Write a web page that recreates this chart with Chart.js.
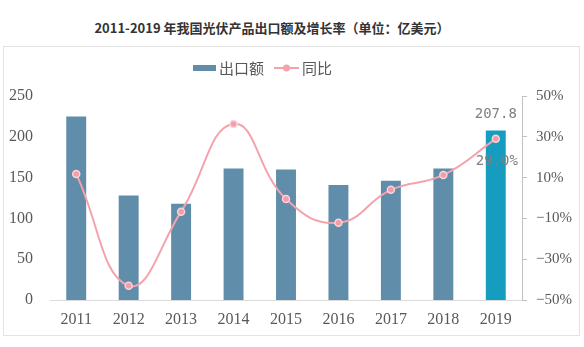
<!DOCTYPE html>
<html>
<head>
<meta charset="utf-8">
<script src="https://cdn.jsdelivr.net/npm/chart.js@4/dist/chart.umd.min.js"></script>
<style>
    body { margin: 0; width: 584px; height: 347px; background: #fff; position: relative; overflow: hidden; }
    #title {
        position: absolute; left: 0; top: 18px; width: 544px; text-align: center;
        font: bold 13px "Noto Sans CJK SC", sans-serif; color: #333;
    }
    #box {
        position: absolute; left: 3px; top: 46px; width: 577px; height: 290px;
        box-sizing: border-box; border: 1px solid #e3e3e3;
    }
    #chart { position: absolute; left: 0; top: 0; }
</style>
</head>
<body>
<div id="title">2011-2019 年我国光伏产品出口额及增长率（单位：亿美元）</div>
<div id="box"><canvas id="chart" width="575" height="288"></canvas></div>
<script>
const years = ['2011', '2012', '2013', '2014', '2015', '2016', '2017', '2018', '2019'];
const exportValues = [225, 128, 118, 161, 160, 141, 146, 161, 207.8];
const growthRates = [11.8, -43, -6.7, 36.3, -0.5, -12.1, 4, 11.3, 29.0];
const leftTicks = [0, 50, 100, 150, 200, 250];
const rightTicks = [-50, -30, -10, 10, 30, 50];

const BAR_COLOR = '#608daa';
const BAR_HIGHLIGHT = '#159cbe';
const LINE_COLOR = '#f4a3ad';
const TEXT_COLOR = '#595959';

// 最后一年单独标注数值
const valueLabels = {
    id: 'valueLabels',
    afterDatasetsDraw(chart) {
        const ctx = chart.ctx;
        const last = years.length - 1;
        const bar = chart.getDatasetMeta(0).data[last];
        const pt = chart.getDatasetMeta(1).data[last];
        ctx.save();
        ctx.font = '14px "DejaVu Sans Mono", monospace';
        ctx.fillStyle = '#7f7f7f';
        ctx.textAlign = 'center';
        ctx.textBaseline = 'middle';
        ctx.fillText(exportValues[last].toFixed(1), bar.x, bar.y - 16);
        ctx.fillText(growthRates[last].toFixed(1) + '%', pt.x + 1, pt.y + 23);
        ctx.restore();
    }
};

// 图例：柱形 + 带点折线
const customLegend = {
    id: 'customLegend',
    afterDraw(chart) {
        const ctx = chart.ctx;
        const ds = chart.data.datasets;
        const y = 21;
        let x = 189;
        ctx.save();
        ctx.font = '15px "Noto Sans CJK SC", sans-serif';
        ctx.textBaseline = 'middle';
        ctx.fillStyle = BAR_COLOR;
        ctx.fillRect(x, y - 3, 23, 6);
        x += 26;
        ctx.fillStyle = TEXT_COLOR;
        ctx.fillText(ds[0].label, x, y);
        x += ctx.measureText(ds[0].label).width + 10;
        ctx.strokeStyle = LINE_COLOR;
        ctx.lineWidth = 2;
        ctx.beginPath();
        ctx.moveTo(x, y);
        ctx.lineTo(x + 25, y);
        ctx.stroke();
        ctx.beginPath();
        ctx.arc(x + 12.5, y, 3.5, 0, Math.PI * 2);
        ctx.fillStyle = LINE_COLOR;
        ctx.fill();
        x += 28;
        ctx.fillStyle = TEXT_COLOR;
        ctx.fillText(ds[1].label, x, y);
        ctx.restore();
    }
};

new Chart(document.getElementById('chart'), {
    type: 'bar',
    data: {
        labels: years,
        datasets: [{
            type: 'bar',
            label: '出口额',
            data: exportValues,
            backgroundColor: years.map((y, i) => i === years.length - 1 ? BAR_HIGHLIGHT : BAR_COLOR),
            barPercentage: 0.76,
            categoryPercentage: 0.5,
            yAxisID: 'y',
            order: 2
        }, {
            type: 'line',
            label: '同比',
            data: growthRates,
            borderColor: LINE_COLOR,
            borderWidth: 2,
            tension: 0.45,
            pointRadius: 3.5,
            pointBackgroundColor: '#f39da8',
            pointBorderColor: '#fcd3d8',
            pointBorderWidth: 1.5,
            yAxisID: 'y1',
            order: 1
        }]
    },
    options: {
        responsive: false,
        animation: false,
        layout: { padding: { top: 49, left: 0, right: 0, bottom: 0 } },
        plugins: {
            legend: { display: false },
            tooltip: { enabled: false }
        },
        scales: {
            x: {
                grid: { display: false },
                border: { display: true, color: '#dcdcdc', width: 1 },
                ticks: {
                    color: TEXT_COLOR,
                    font: { family: '"Liberation Serif", serif', size: 16 },
                    padding: 2
                },
                afterFit: s => { s.height = 35; }
            },
            y: {
                position: 'left',
                min: 0,
                max: 250,
                grid: { display: false },
                border: { display: false },
                afterBuildTicks: s => { s.ticks = leftTicks.map(v => ({ value: v })); },
                ticks: {
                    color: TEXT_COLOR,
                    font: { family: '"Liberation Serif", serif', size: 16 },
                    padding: 9
                },
                afterFit: s => { s.width = 46; }
            },
            y1: {
                position: 'right',
                min: -50,
                max: 50,
                grid: { drawOnChartArea: false, drawTicks: true, tickLength: 5, color: '#bfbfbf' },
                border: { display: true, color: '#bfbfbf' },
                afterBuildTicks: s => { s.ticks = rightTicks.map(v => ({ value: v })); },
                ticks: {
                    color: TEXT_COLOR,
                    font: { family: '"Liberation Serif", serif', size: 15 },
                    padding: 9,
                    callback: v => String(v).replace('-', '−') + '%'
                },
                afterFit: s => { s.width = 57; }
            }
        }
    },
    plugins: [valueLabels, customLegend]
});
</script>
</body>
</html>
